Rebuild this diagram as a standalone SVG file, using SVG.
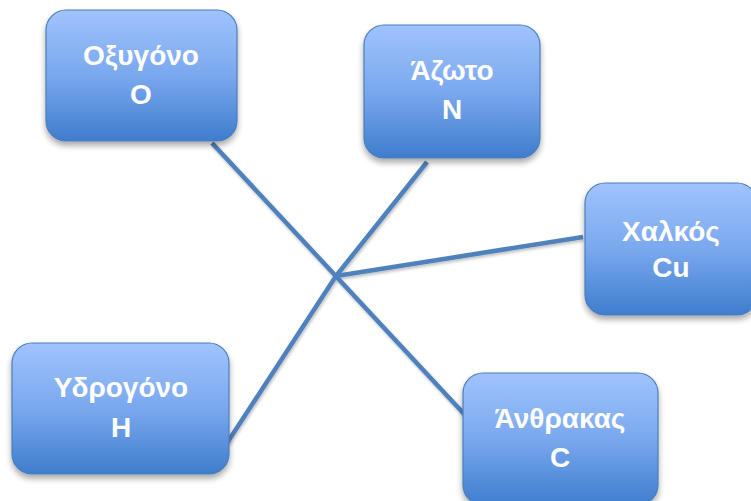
<svg xmlns="http://www.w3.org/2000/svg" width="751" height="501" viewBox="0 0 751 501">
  <defs>
    <linearGradient id="boxFill" x1="0" y1="0" x2="0" y2="1">
      <stop offset="0" stop-color="#a0c3fc"/>
      <stop offset="0.5" stop-color="#7aa8ee"/>
      <stop offset="1" stop-color="#3f7dcd"/>
    </linearGradient>
    <filter id="boxShadow" x="-10%" y="-10%" width="120%" height="130%">
      <feGaussianBlur in="SourceAlpha" stdDeviation="3"/>
      <feOffset dx="0" dy="4" result="blur"/>
      <feComponentTransfer><feFuncA type="linear" slope="0.35"/></feComponentTransfer>
      <feMerge><feMergeNode/><feMergeNode in="SourceGraphic"/></feMerge>
    </filter>
    <filter id="lineShadow" x="-10%" y="-10%" width="120%" height="120%">
      <feGaussianBlur in="SourceAlpha" stdDeviation="1.5"/>
      <feOffset dx="1" dy="2"/>
      <feComponentTransfer><feFuncA type="linear" slope="0.25"/></feComponentTransfer>
      <feMerge><feMergeNode/><feMergeNode in="SourceGraphic"/></feMerge>
    </filter>
  </defs>
  <style>
    .box { fill: url(#boxFill); stroke: #4a7ebb; stroke-width: 1.2; filter: url(#boxShadow); }
    .label { font-family: "Liberation Sans", Arial, sans-serif; font-weight: bold; font-size: 28px; fill: #ffffff; text-anchor: middle; }
    .link { fill: none; stroke: #4f81bd; stroke-width: 4.5; stroke-linejoin: round; }
  </style>
  <rect width="751" height="501" fill="#ffffff"/>

  <!-- connectors -->
  <g id="connectors" filter="url(#lineShadow)">
    <line class="link" x1="212" y1="143" x2="466" y2="416"/>
    <polyline class="link" points="427,162 336,276 227,443"/>
    <line class="link" x1="583" y1="237" x2="336" y2="276"/>
  </g>

  <!-- nodes -->
  <g id="node-oxygen">
    <rect class="box" x="46" y="10" width="191" height="131" rx="20"/>
    <text class="label" x="141" y="65">Οξυγόνο</text>
    <text class="label" x="141" y="104">O</text>
  </g>
  <g id="node-nitrogen">
    <rect class="box" x="364" y="25" width="176" height="133" rx="20"/>
    <text class="label" x="452" y="80">Άζωτο</text>
    <text class="label" x="452" y="119">N</text>
  </g>
  <g id="node-copper">
    <rect class="box" x="585" y="183" width="172" height="132" rx="20"/>
    <text class="label" x="671" y="241">Χαλκός</text>
    <text class="label" x="671" y="277">Cu</text>
  </g>
  <g id="node-hydrogen">
    <rect class="box" x="12" y="343" width="217" height="131" rx="20"/>
    <text class="label" x="121" y="397">Υδρογόνο</text>
    <text class="label" x="121" y="437">H</text>
  </g>
  <g id="node-carbon">
    <rect class="box" x="463" y="373" width="195" height="132" rx="20"/>
    <text class="label" x="560" y="428">Άνθρακας</text>
    <text class="label" x="560" y="467">C</text>
  </g>
</svg>
